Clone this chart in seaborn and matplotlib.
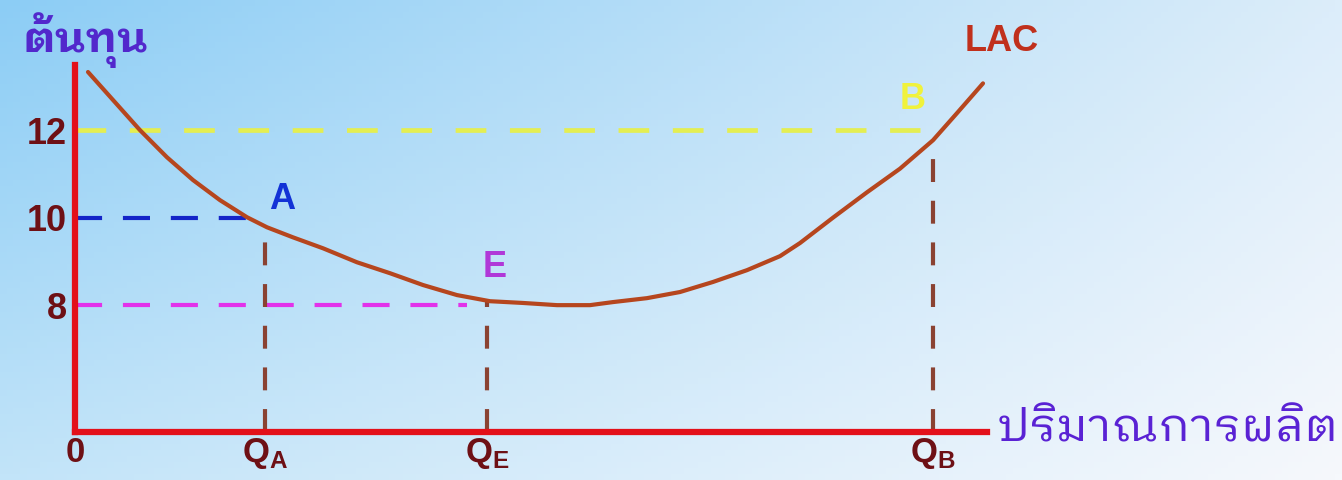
import matplotlib
matplotlib.use("Agg")
import numpy as np
import pandas as pd
import matplotlib.pyplot as plt
import seaborn as sns
from matplotlib import font_manager
from matplotlib.colors import to_rgb

# LAC curve (quantity, cost)
lac_q = [1.3, 3.8, 6.5, 9.2, 11.8, 14.5, 17.2, 19.2, 21.8, 24.8, 28.2, 31.5, 34.8, 38.2, 41.5,
         44.8, 48.2, 51.5, 53.8, 57.2, 60.5, 63.8, 67.2, 70.5, 72.5, 75.8, 79.2, 82.5, 85.8, 88.2, 90.8]
lac_cost = [13.33, 12.69, 12.0, 11.38, 10.86, 10.40, 10.01, 9.78, 9.55, 9.30, 8.98, 8.73, 8.46, 8.23, 8.09,
            8.05, 8.0, 8.0, 8.07, 8.16, 8.30, 8.53, 8.80, 9.12, 9.42, 10.0, 10.58, 11.12, 11.77, 12.39, 13.07]

# marked points
point_names = ["A", "E", "B"]
point_q = [19.0, 41.2, 85.8]
point_cost = [10.0, 8.0, 12.0]
point_curve_cost = [9.80, 8.10, 11.77]
q_labels = [r"$\mathbf{Q}_{\mathbf{A}}$", r"$\mathbf{Q}_{\mathbf{E}}$", r"$\mathbf{Q}_{\mathbf{B}}$"]
cost_ticks = [8, 10, 12]

# pick a Thai font that is installed (looped ones first)
thai_font = "DejaVu Sans"
names = {f.name for f in font_manager.fontManager.ttflist}
for cand in ["IBM Plex Sans Thai Looped", "Noto Sans Thai Looped", "Sarabun", "Niramit", "Krub",
             "Thasadith", "K2D", "KoHo", "Noto Sans Thai", "Athiti"]:
    if cand in names:
        thai_font = cand
        break

sns.set_style("white")
plt.rcParams["font.family"] = ["Liberation Sans", "DejaVu Sans"]
plt.rcParams["mathtext.fontset"] = "custom"
plt.rcParams["mathtext.bf"] = "Liberation Sans:bold"
plt.rcParams["mathtext.rm"] = "Liberation Sans"

W, H = 1342, 480
fig = plt.figure(figsize=(W / 100, H / 100), dpi=100)

# background gradient
bg = fig.add_axes([0, 0, 1, 1])
tl, tr = np.array(to_rgb("#8ccdf5")), np.array(to_rgb("#dcedfa"))
bl, br = np.array(to_rgb("#c2e4f9")), np.array(to_rgb("#f6f8fc"))
u = np.linspace(0, 1, 200)[None, :, None]
v = np.linspace(0, 1, 80)[:, None, None]
img = (1 - v) * ((1 - u) * tl + u * tr) + v * ((1 - u) * bl + u * br)
bg.imshow(img, extent=[0, 1, 0, 1], aspect="auto", origin="upper")
bg.axis("off")

ax = fig.add_axes([75 / W, 48 / H, 912 / W, 367 / H])
ax.set_facecolor("none")
ax.set_xlim(0, 91.2)
ax.set_ylim(5.10, 13.49)

red = "#e3101a"
brown_v = "#8a4232"
dash = (0, (6.5, 5))

# horizontal guides
sns.lineplot(x=[0, point_q[0]], y=[point_cost[0]] * 2, ax=ax, color="#1424c8", lw=3,
             linestyle=dash, estimator=None)
sns.lineplot(x=[0, point_q[1] - 2], y=[point_cost[1]] * 2, ax=ax, color="#e232ea", lw=3,
             linestyle=dash, estimator=None)
sns.lineplot(x=[0, point_q[2] - 1.3], y=[point_cost[2]] * 2, ax=ax, color="#e4ee52", lw=3.4,
             linestyle=dash, estimator=None)

# vertical guides
for q, c in zip(point_q, point_curve_cost):
    sns.lineplot(x=[q, q], y=[5.10, c], ax=ax, color=brown_v, lw=3, linestyle=(0, (5.5, 4.5)),
                 estimator=None, sort=False)

# LAC curve
curve = pd.DataFrame({"Q": lac_q, "Cost": lac_cost})
sns.lineplot(data=curve, x="Q", y="Cost", ax=ax, color="#b6461e", lw=3, sort=False, estimator=None)

for s in ["top", "right"]:
    ax.spines[s].set_visible(False)
for s in ["left", "bottom"]:
    ax.spines[s].set_color(red)
    ax.spines[s].set_linewidth(4.5)
    ax.spines[s].set_capstyle("projecting")

ax.set_yticks(cost_ticks)
ax.set_yticklabels([str(t) for t in cost_ticks], fontsize=26, fontweight="bold", color="#6e1015")
ax.set_xticks([0] + point_q)
ax.set_xticklabels(["0"] + q_labels, fontsize=25, fontweight="bold", color="#6e1015")
ax.tick_params(axis="y", length=0, pad=6)
ax.tick_params(axis="x", length=0, pad=3)
ax.set_xlabel("")
ax.set_ylabel("")

# point labels
ax.text(20.7, 10.42, "A", fontsize=26, fontweight="bold", color="#1232d6", ha="center", va="center")
ax.text(42.0, 8.87, "E", fontsize=26, fontweight="bold", color="#b038d8", ha="center", va="center")
ax.text(83.8, 12.69, "B", fontsize=26, fontweight="bold", color="#f0f23c", ha="center", va="center")
ax.text(92.7, 14.03, "LAC", fontsize=26, fontweight="bold", color="#c0301c", ha="center", va="center",
        clip_on=False)

# axis titles
fig.text(85 / W, 1 - 40 / H, "ต้นทุน", family=[thai_font, "DejaVu Sans"], fontsize=31,
         fontweight="bold", color="#5228cc", ha="center", va="center")
fig.text(998 / W, 1 - 428 / H, "ปริมาณการผลิต", family=[thai_font, "DejaVu Sans"], fontsize=34,
         color="#5a22d4", ha="left", va="center")

fig.savefig("out.png", dpi=100)
